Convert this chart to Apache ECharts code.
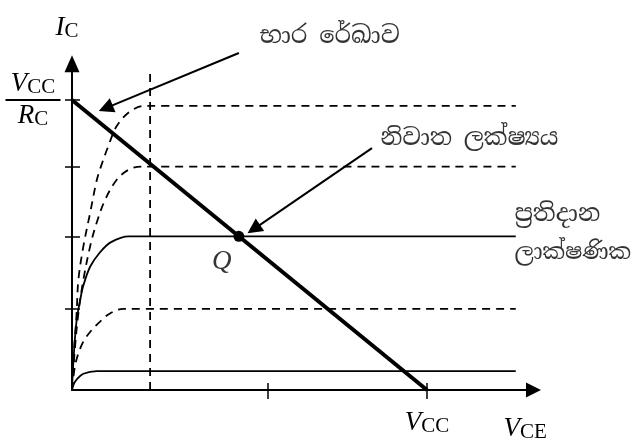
<!DOCTYPE html>
<html>
<head>
<meta charset="utf-8">
<script src="https://cdn.jsdelivr.net/npm/echarts@6/dist/echarts.min.js"></script>
<style>
  html, body { margin: 0; padding: 0; background: #fff; }
  #chart { width: 632px; height: 443px; }
</style>
</head>
<body>
<div id="chart"></div>
<script>
// Transistor output characteristics (I_C vs V_CE) with the DC load line.
// Units: V_CC = 10 on the V_CE axis, V_CC/R_C = 10 on the I_C axis.

const vceMax = 13;
const icMax = 11.25;
const vcc = 10;
const icSat = 10;
const curveEnd = 12.5;

// Flat (active-region) current level of each characteristic curve
const levelValues = [9.8, 7.7, 5.3, 2.8, 0.65];
const levelDashed = [true, true, false, true, false];

// Rising (saturation-region) part of each curve, from the origin to the knee
const curveRise = [
  [[0, 0], [0.06, 1.4], [0.13, 2.65], [0.18, 3.8], [0.32, 4.95], [0.51, 6.1], [0.69, 7.2], [0.8, 7.65], [1.02, 8.4], [1.26, 9.1], [1.63, 9.6], [2.05, 9.8]],
  [[0, 0], [0.08, 1.4], [0.18, 2.65], [0.32, 3.8], [0.51, 4.95], [0.69, 5.75], [0.93, 6.55], [1.26, 7.25], [1.6, 7.6], [1.95, 7.7]],
  [[0, 0], [0.05, 1.2], [0.13, 2.4], [0.23, 3.1], [0.32, 3.6], [0.51, 4.25], [0.79, 4.75], [1.1, 5.1], [1.6, 5.3]],
  [[0, 0], [0.08, 0.8], [0.18, 1.26], [0.32, 1.67], [0.51, 2.0], [0.79, 2.36], [1.07, 2.64], [1.45, 2.8]],
  [[0, 0], [0.05, 0.2], [0.13, 0.36], [0.32, 0.56], [0.7, 0.65]]
];

// Saturation boundary (dashed vertical)
const satVce = 2.2;
const satTop = 11.1;

// Axis ticks
const yTicks = [2.8, 5.3, 7.7, 10];
const xTicks = [5.5, 10];

// Operating point
const qPoint = [4.7, 5.3];
const qLabelAt = [4.23, 4.41];

// Annotation texts, their anchors and sizes
const annoText = ['භාර රේඛාව', 'නිවාත ලක්ෂ්‍යය', 'ප්‍රතිදාන', 'ලාක්ෂණික'];
const annoAt = [[7.27, 12.17], [11.21, 8.66], [12.48, 6.03], [12.48, 4.69]];
const annoAlign = ['center', 'center', 'left', 'left'];
const annoSize = [24, 23.5, 24, 22.5];

// Pointer arrows (tail -> head)
const arrowFrom = [[4.70, 11.62], [8.45, 8.34]];
const arrowTo = [[0.95, 9.72], [5.12, 5.55]];

const serif = '"Liberation Serif", "DejaVu Serif", serif';
const sinhala = '"Noto Serif Sinhala", "Noto Sans Sinhala", "Iskoola Pota", "LKLUG", "Abhaya Libre", serif';

const richMath = {
  v: { fontFamily: serif, fontStyle: 'italic', fontSize: 27, color: '#000', lineHeight: 28 },
  s: { fontFamily: serif, fontSize: 21, color: '#000', lineHeight: 28, padding: [7, 0, 0, 0] },
  bar: { width: 55, height: 2, lineHeight: 4, backgroundColor: '#000', fontSize: 1 }
};

const black = '#000';
const series = [];

// Characteristic curves
levelValues.forEach(function (lv, i) {
  const pts = curveRise[i].slice();
  pts.push([curveEnd, lv]);
  series.push({
    type: 'line',
    data: pts,
    smooth: 0.35,
    symbol: 'none',
    silent: true,
    lineStyle: { color: black, width: 1.8, type: levelDashed[i] ? [8, 6] : 'solid' }
  });
});

// Saturation boundary
series.push({
  type: 'line',
  data: [[satVce, 0], [satVce, satTop]],
  symbol: 'none',
  silent: true,
  lineStyle: { color: black, width: 1.8, type: [8, 6] }
});

// DC load line
series.push({
  type: 'line',
  data: [[0, icSat], [vcc, 0]],
  symbol: 'none',
  silent: true,
  z: 4,
  lineStyle: { color: black, width: 4 }
});

// Pointer arrows
series.push({
  type: 'lines',
  coordinateSystem: 'cartesian2d',
  clip: false,
  symbol: ['none', 'triangle'],
  symbolSize: 15,
  silent: true,
  z: 5,
  lineStyle: { color: black, width: 2, opacity: 1, curveness: 0 },
  itemStyle: { color: black },
  data: arrowFrom.map(function (f, i) { return { coords: [f, arrowTo[i]] }; })
});

// Q point
series.push({
  type: 'scatter',
  data: [qPoint],
  symbol: 'circle',
  symbolSize: 11,
  silent: true,
  z: 6,
  itemStyle: { color: black, opacity: 1 }
});

// Text annotations
series.push({
  type: 'scatter',
  clip: false,
  silent: true,
  symbolSize: 1,
  itemStyle: { color: 'rgba(0,0,0,0)' },
  z: 7,
  data: annoText.map(function (t, i) {
    return {
      value: annoAt[i],
      name: t,
      label: {
        show: true,
        position: [0, 0],
        formatter: '{b}',
        align: annoAlign[i],
        verticalAlign: 'middle',
        fontFamily: sinhala,
        fontSize: annoSize[i],
        color: black
      }
    };
  }).concat([{
    value: qLabelAt,
    name: 'Q',
    label: {
      show: true,
      position: [0, 0],
      formatter: '{b}',
      align: 'center',
      verticalAlign: 'middle',
      fontFamily: serif,
      fontStyle: 'italic',
      fontSize: 27,
      color: black
    }
  }])
});

const chart = echarts.init(document.getElementById('chart'), null, { renderer: 'canvas' });

chart.setOption({
  animation: false,
  backgroundColor: '#fff',
  grid: { left: 72, right: 98.5, top: 63.75, bottom: 53, containLabel: false },
  xAxis: [
    {
      type: 'value', min: 0, max: vceMax, position: 'bottom',
      axisLine: { show: true, lineStyle: { color: black, width: 2 }, symbol: ['none', 'triangle'], symbolSize: [15, 15] },
      axisTick: { show: true, customValues: xTicks, length: 9, lineStyle: { color: black, width: 1.5 } },
      axisLabel: {
        show: true, customValues: [vcc], margin: 19,
        formatter: function () { return '{v|V}{s|CC}'; },
        rich: richMath
      },
      splitLine: { show: false },
      name: '{v|V}{s|CE}',
      nameLocation: 'end',
      nameGap: -30,
      nameTextStyle: { align: 'left', verticalAlign: 'top', padding: [25, 0, 0, 0], rich: richMath }
    },
    {
      type: 'value', min: 0, max: vceMax, position: 'bottom',
      axisLine: { show: false },
      axisTick: { show: true, inside: true, customValues: xTicks, length: 7, lineStyle: { color: black, width: 1.5 } },
      axisLabel: { show: false },
      splitLine: { show: false }
    }
  ],
  yAxis: [
    {
      type: 'value', min: 0, max: icMax, position: 'left',
      axisLine: { show: true, lineStyle: { color: black, width: 2 }, symbol: ['none', 'triangle'], symbolSize: [15, 17] },
      axisTick: { show: true, customValues: yTicks, length: 7, lineStyle: { color: black, width: 1.5 } },
      axisLabel: {
        show: true, customValues: [icSat], margin: 39, align: 'center',
        formatter: function () { return '{v|V}{s|CC}\n{bar| }\n{v|R}{s|C}'; },
        rich: richMath
      },
      splitLine: { show: false },
      name: '{v|I}{s|C}',
      nameLocation: 'end',
      nameGap: 22,
      nameTextStyle: { align: 'center', padding: [0, 10, 0, 0], rich: richMath }
    },
    {
      type: 'value', min: 0, max: icMax, position: 'left',
      axisLine: { show: false },
      axisTick: { show: true, inside: true, customValues: yTicks, length: 8, lineStyle: { color: black, width: 1.5 } },
      axisLabel: { show: false },
      splitLine: { show: false }
    }
  ],
  series: series
});
</script>
</body>
</html>
